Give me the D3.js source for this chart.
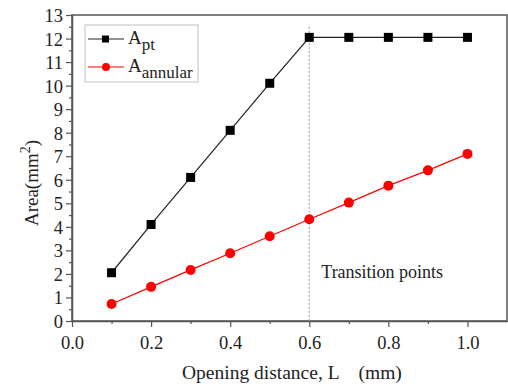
<!DOCTYPE html>
<html lang="en">
<head>
<meta charset="UTF-8">
<script src="https://d3js.org/d3.v7.min.js"></script>
<style>
  body { margin: 0; background: #fff; }
  svg text { font-family: "Liberation Serif", "Times New Roman", serif; fill: #222; }
</style>
</head>
<body>
<svg id="chart"></svg>
<script>
// data
var openings = [0.1, 0.2, 0.3, 0.4, 0.5, 0.6, 0.7, 0.8, 0.9, 1.0];
var areaPt = [2.05, 4.1, 6.1, 8.1, 10.1, 12.05, 12.05, 12.05, 12.05, 12.05];
var areaAnnular = [0.72, 1.45, 2.17, 2.88, 3.6, 4.32, 5.03, 5.75, 6.4, 7.1];
var xTicks = [0.0, 0.2, 0.4, 0.6, 0.8, 1.0];
var yTicks = [0, 1, 2, 3, 4, 5, 6, 7, 8, 9, 10, 11, 12, 13];
var transitionX = 0.6;

var W = 508, H = 386;
var mLeft = 72, mRight = 507, mTop = 15, mBottom = 321;

var svg = d3.select("#chart").attr("width", W).attr("height", H);

var x = d3.scaleLinear().domain([0, 1.1]).range([mLeft, mRight]);
var y = d3.scaleLinear().domain([0, 13]).range([mBottom, mTop]);

// frame
svg.append("rect")
    .attr("x", mLeft).attr("y", mTop)
    .attr("width", mRight - mLeft).attr("height", mBottom - mTop)
    .attr("fill", "none").attr("stroke", "#555").attr("stroke-width", 1.5);

// x axis
var xAxis = svg.append("g").attr("transform", "translate(0," + mBottom + ")");
xAxis.call(d3.axisBottom(x).tickValues(xTicks).tickFormat(d3.format(".1f")).tickSize(6).tickSizeOuter(0));
xAxis.append("g").call(d3.axisBottom(x).tickValues(d3.range(0.1, 1.1, 0.2)).tickSize(3).tickFormat(""))
    .select(".domain").remove();
xAxis.selectAll("text").attr("font-size", 18.5).attr("dy", "1.05em");

// y axis
var yAxis = svg.append("g").attr("transform", "translate(" + mLeft + ",0)");
yAxis.call(d3.axisLeft(y).tickValues(yTicks).tickSize(6).tickSizeOuter(0));
yAxis.append("g").call(d3.axisLeft(y).tickValues(d3.range(0.5, 13, 1)).tickSize(3).tickFormat(""))
    .select(".domain").remove();
yAxis.selectAll("text").attr("font-size", 18.5).attr("dy", "0.35em");

svg.selectAll(".domain").attr("stroke", "#555").attr("stroke-width", 1.5);
svg.selectAll(".tick line").attr("stroke", "#555").attr("stroke-width", 1.2);

// transition line
svg.append("line")
    .attr("x1", x(transitionX)).attr("x2", x(transitionX))
    .attr("y1", y(12.5)).attr("y2", mBottom)
    .attr("stroke", "#999").attr("stroke-width", 1).attr("stroke-dasharray", "2,2");

svg.append("text").attr("x", x(transitionX) + 12).attr("y", 278)
    .attr("font-size", 18).text("Transition points");

var line = d3.line().x(function(d) { return x(d[0]); }).y(function(d) { return y(d[1]); });

var ptData = openings.map(function(o, i) { return [o, areaPt[i]]; });
var anData = openings.map(function(o, i) { return [o, areaAnnular[i]]; });

svg.append("path").datum(ptData).attr("d", line)
    .attr("fill", "none").attr("stroke", "#222").attr("stroke-width", 1.2);
svg.selectAll(".sq").data(ptData).enter().append("rect")
    .attr("x", function(d) { return x(d[0]) - 4.5; })
    .attr("y", function(d) { return y(d[1]) - 4.5; })
    .attr("width", 9).attr("height", 9).attr("fill", "#000");

svg.append("path").datum(anData).attr("d", line)
    .attr("fill", "none").attr("stroke", "#f00").attr("stroke-width", 1.2);
svg.selectAll(".dot").data(anData).enter().append("circle")
    .attr("cx", function(d) { return x(d[0]); })
    .attr("cy", function(d) { return y(d[1]); })
    .attr("r", 5).attr("fill", "#f00");

// legend
var lg = svg.append("g");
lg.append("rect").attr("x", 85).attr("y", 25).attr("width", 113).attr("height", 57)
    .attr("fill", "#fff").attr("stroke", "#ccc").attr("stroke-width", 1.2);
var items = [{ c: "#222", sub: "pt", sq: true, y: 39 }, { c: "#f00", sub: "annular", sq: false, y: 67 }];
items.forEach(function(it) {
    lg.append("line").attr("x1", 88).attr("x2", 124).attr("y1", it.y).attr("y2", it.y)
        .attr("stroke", it.c).attr("stroke-width", 1.2);
    if (it.sq) {
        lg.append("rect").attr("x", 102).attr("y", it.y - 3.5).attr("width", 7).attr("height", 7).attr("fill", "#000");
    } else {
        lg.append("circle").attr("cx", 106).attr("cy", it.y).attr("r", 4).attr("fill", "#f00");
    }
    var t = lg.append("text").attr("x", 128).attr("y", it.y + 5).attr("font-size", 19);
    t.append("tspan").text("A");
    t.append("tspan").attr("dy", 6).attr("font-size", 17).text(it.sub);
});

// axis titles
var yt = svg.append("text").attr("transform", "translate(38,183) rotate(-90)")
    .attr("text-anchor", "middle").attr("font-size", 19);
yt.append("tspan").text("Area(mm");
yt.append("tspan").attr("dy", -8).attr("font-size", 14).text("2");
yt.append("tspan").attr("dy", 8).text(")");

var xt = svg.append("text").attr("x", 182).attr("y", 379).attr("font-size", 19.5);
xt.append("tspan").text("Opening distance, L");
xt.append("tspan").attr("dy", 14).attr("font-size", 14).text("op");
xt.append("tspan").attr("dy", -14).text(" (mm)");
</script>
</body>
</html>
